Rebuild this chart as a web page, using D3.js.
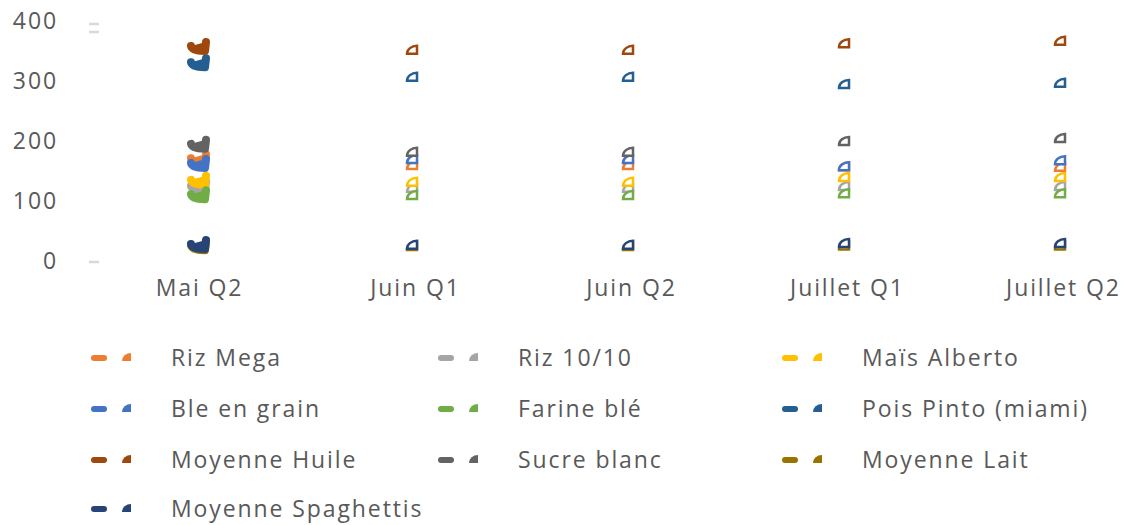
<!DOCTYPE html>
<meta charset="utf-8">
<script src="https://cdn.jsdelivr.net/npm/d3@7"></script>
<style>
    body { margin: 0; background: #fff; }
    text { font-family: "Open Sans", sans-serif; fill: #595959; }
</style>
<div id="my_dataviz"></div>
<script>
    // periods and series
    const periods = ["Mai Q2", "Juin Q1", "Juin Q2", "Juillet Q1", "Juillet Q2"];
    const yTicks = [0, 100, 200, 300, 400];

    const seriesNames = ["Riz Mega", "Riz 10/10", "Maïs Alberto", "Ble en grain", "Farine blé",
        "Pois Pinto (miami)", "Moyenne Huile", "Sucre blanc", "Moyenne Lait", "Moyenne Spaghettis"];
    const seriesColors = ["#ED7D31", "#A5A5A5", "#FFC000", "#4472C4", "#70AD47",
        "#255E91", "#9E480E", "#636363", "#997300", "#264478"];

    const rizMega = [168, 160, 160, 158, 157];
    const riz1010 = [122, 122, 122, 125, 125];
    const maisAlberto = [132, 132, 132, 140, 140];
    const bleGrain = [160, 170, 170, 158, 168];
    const farineBle = [108, 110, 110, 113, 113];
    const poisPinto = [328, 307, 307, 295, 297];
    const moyHuile = [355, 352, 352, 363, 367];
    const sucreBlanc = [192, 182, 182, 200, 205];
    const moyLait = [23, 25, 25, 26, 26];
    const moySpaghettis = [25, 27, 27, 30, 30];

    const seriesValues = [rizMega, riz1010, maisAlberto, bleGrain, farineBle,
        poisPinto, moyHuile, sucreBlanc, moyLait, moySpaghettis];

    const width = 1132, height = 525;
    const fontSize = "23px", spacing = "1.9px";

    let svg = d3.select("#my_dataviz").append("svg")
        .attr("width", width)
        .attr("height", height)
    ;

    let xScale = d3.scalePoint()
        .domain(periods)
        .range([91, 1171])
        .padding(0.5)
    ;

    let yScale = d3.scaleLinear()
        .domain([0, 400])
        .range([261, 21])
    ;

    // y labels
    let yAxis = d3.axisLeft(yScale)
        .tickValues(yTicks)
        .tickSize(0)
        .tickPadding(0)
    ;
    let gy = svg.append("g")
        .attr("transform", "translate(58,0)")
        .call(yAxis)
    ;
    gy.select(".domain").remove();
    gy.selectAll("text")
        .style("font-size", fontSize)
        .style("letter-spacing", spacing)
        .style("font-family", null)
        .attr("fill", null)
    ;

    // stray tick marks
    [[400, 3], [400, 11], [0, 1]].forEach(t => {
        svg.append("line")
            .attr("x1", 89).attr("x2", 99)
            .attr("y1", yScale(t[0]) + t[1]).attr("y2", yScale(t[0]) + t[1])
            .attr("stroke", "#d9d9d9")
            .attr("stroke-width", 2.5)
        ;
    });

    // x labels
    let xAxis = d3.axisBottom(xScale)
        .tickSize(0)
        .tickPadding(19)
    ;
    let gx = svg.append("g")
        .attr("transform", "translate(0,261)")
        .call(xAxis)
    ;
    gx.select(".domain").remove();
    gx.selectAll("text")
        .style("font-size", fontSize)
        .style("letter-spacing", spacing)
        .style("font-family", null)
        .attr("fill", null)
    ;

    const markerPath = "M5,4 L-5,4 A10,8 0 0 1 5,-4 Z";
    const blobPath = "M-8,-2 Q-7,3 6,3 L7,-6";

    seriesValues.forEach((vals, i) => {
        let g = svg.append("g");
        vals.forEach((v, j) => {
            let x = xScale(periods[j]), y = yScale(v);
            if (j === 0) {
                g.append("path")
                    .attr("d", blobPath)
                    .attr("transform", `translate(${x},${y})`)
                    .attr("fill", seriesColors[i])
                    .attr("stroke", seriesColors[i])
                    .attr("stroke-width", 8)
                    .attr("stroke-linecap", "round")
                    .attr("stroke-linejoin", "round")
                ;
            } else {
                g.append("path")
                    .attr("d", markerPath)
                    .attr("transform", `translate(${x - 3},${y})`)
                    .attr("fill", "#fff")
                    .attr("stroke", seriesColors[i])
                    .attr("stroke-width", 2.5)
                ;
            }
        });
    });

    // legend
    const legCols = [91, 438, 782];
    const legRows = [357, 408, 459, 508];
    seriesNames.forEach((name, i) => {
        let lx = legCols[i % 3], ly = legRows[Math.floor(i / 3)];
        let lg = svg.append("g").attr("transform", `translate(${lx},${ly})`);
        lg.append("line")
            .attr("x1", 3).attr("x2", 13)
            .attr("y1", 1).attr("y2", 1)
            .attr("stroke", seriesColors[i])
            .attr("stroke-width", 6)
            .attr("stroke-linecap", "round")
        ;
        lg.append("path")
            .attr("d", "M5,4 L-4,4 A9,8 0 0 1 5,-4 Z")
            .attr("transform", "translate(35,0)")
            .attr("fill", seriesColors[i])
        ;
        lg.append("text")
            .attr("x", 80)
            .attr("y", 0)
            .attr("dominant-baseline", "central")
            .style("font-size", fontSize)
            .style("letter-spacing", spacing)
            .text(name)
        ;
    });
</script>
